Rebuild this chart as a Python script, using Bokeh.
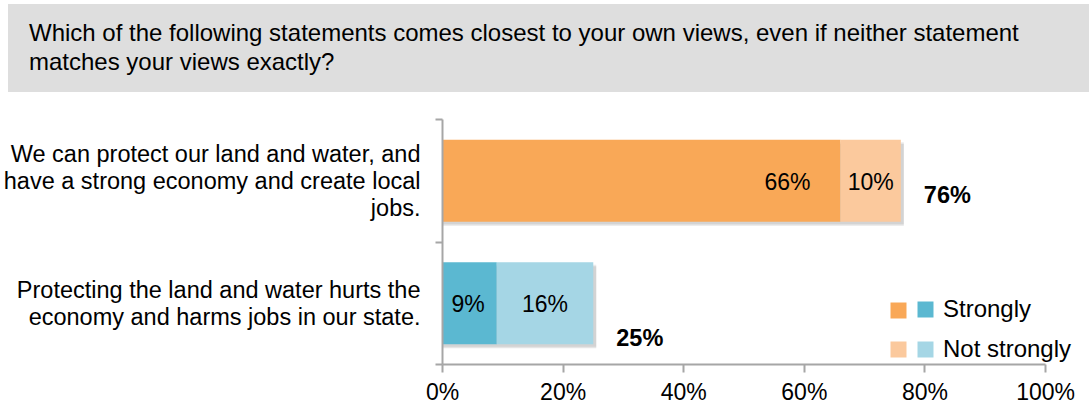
from bokeh.plotting import figure
from bokeh.models import (ColumnDataSource, LabelSet, Legend, LegendItem, FixedTicker,
                          Range1d, Div, PrintfTickFormatter)
from bokeh.layouts import column
from bokeh.core.properties import value
from bokeh.embed import file_html
from bokeh.resources import INLINE

# ---------------- data ----------------
question = ("Which of the following statements comes closest to your own views, even if neither statement"
            "<br>matches your views exactly?")
categories = [
    "We can protect our land and water, and\nhave a strong economy and create local\njobs.",
    "Protecting the land and water hurts the\neconomy and harms jobs in our state.",
]
strongly = [66, 9]
not_strongly = [10, 16]
series_names = ["Strongly", "Not strongly"]
x_ticks = [0, 20, 40, 60, 80, 100]

# ---------------- style ----------------
FONT = "Liberation Sans"
strong_colors = ["#F9A857", "#5BB8D1"]
not_colors = ["#FBC99D", "#A5D6E5"]
strong_label_dx = [-30, -12]     # label placement (px)
total_label_dy = [-14, -35]      # label placement (px)
AXIS_COLOR = "#A6A6A6"
FRAME_LEFT, FRAME_W100 = 441, 604   # px of 0% and width of 0..100%
X_END = 100 * (1089 - FRAME_LEFT) / FRAME_W100

n = len(categories)
y_pos = [n - i - 0.5 for i in range(n)]
totals = [s + t for s, t in zip(strongly, not_strongly)]

src = ColumnDataSource(dict(
    y=y_pos,
    strongly=strongly,
    not_strongly=not_strongly,
    total=totals,
    mid=[s + t / 2 for s, t in zip(strongly, not_strongly)],
    strong_color=strong_colors,
    not_color=not_colors,
    strong_text=[f"{v}%" for v in strongly],
    not_text=[f"{v}%" for v in not_strongly],
    total_text=[f"{v}%" for v in totals],
    strong_dx=strong_label_dx,
    total_dy=total_label_dy,
    shadow_y=[v - 0.033 for v in y_pos],
    shadow_y2=[v - 0.02 for v in y_pos],
    shadow_r=[v + 0.5 for v in totals],
))

p = figure(width=1089, height=309, x_range=Range1d(0, X_END), y_range=Range1d(0, n),
           output_backend="svg", toolbar_location=None,
           min_border_left=FRAME_LEFT, min_border_right=0, min_border_top=19, min_border_bottom=45,
           margin=0)
p.outline_line_color = None
p.xgrid.visible = False
p.ygrid.visible = False
p.background_fill_color = "white"
p.border_fill_color = "white"

BAR_H = 0.67
# soft drop shadow
p.hbar(y="shadow_y", left=0, right="shadow_r", height=BAR_H, source=src,
       fill_color="black", fill_alpha=0.10, line_color=None)
p.hbar(y="shadow_y2", left=0, right="shadow_r", height=BAR_H, source=src,
       fill_color="black", fill_alpha=0.08, line_color=None)

r_strong = p.hbar(y="y", left=0, right="strongly", height=BAR_H, source=src,
                  fill_color="strong_color", line_color=None)
r_not = p.hbar(y="y", left="strongly", right="total", height=BAR_H, source=src,
               fill_color="not_color", line_color=None)

# x axis
xa = p.xaxis[0]
xa.ticker = FixedTicker(ticks=x_ticks)
xa.bounds = (0, 100)
xa.formatter = PrintfTickFormatter(format="%d%%")
xa.axis_line_color = AXIS_COLOR
xa.axis_line_width = 2
xa.major_tick_line_color = AXIS_COLOR
xa.major_tick_line_width = 2
xa.major_tick_out = 8
xa.major_tick_in = 0
xa.minor_tick_line_color = None
xa.major_label_text_font = FONT
xa.major_label_text_font_size = "23px"
xa.major_label_text_color = "black"
xa.major_label_standoff = 6

# y axis: category labels at centres, tick marks at boundaries (minor ticks)
ya = p.yaxis[0]
ya.ticker = FixedTicker(ticks=y_pos, minor_ticks=list(range(n + 1)))
ya.major_label_overrides = {y: c for y, c in zip(y_pos, categories)}
ya.axis_line_color = AXIS_COLOR
ya.axis_line_width = 2
ya.major_tick_line_color = None
ya.major_tick_out = 0
ya.major_tick_in = 0
ya.minor_tick_line_color = AXIS_COLOR
ya.minor_tick_line_width = 2
ya.minor_tick_out = 7
ya.minor_tick_in = 0
ya.major_label_text_font = FONT
ya.major_label_text_font_size = "23.5px"
ya.major_label_text_color = "black"
ya.major_label_text_line_height = 1.04
ya.major_label_standoff = 15

# labels
common = dict(source=src, text_font=value(FONT), text_font_size="23px", text_color="black",
              text_baseline="middle")
p.add_layout(LabelSet(x="strongly", y="y", text="strong_text", x_offset="strong_dx",
                      y_offset=-1, text_align="right", **common))
p.add_layout(LabelSet(x="mid", y="y", text="not_text", y_offset=-1, text_align="center", **common))
tot = dict(common)
tot["text_font_size"] = "23.5px"
p.add_layout(LabelSet(x="total", y="y", text="total_text", x_offset=23, y_offset="total_dy",
                      text_align="left", text_font_style="bold", **tot))

# legend: two columns of swatches (orange set, blue set)
leg_style = dict(glyph_width=20, glyph_height=20, label_height=27, spacing=12, padding=0,
                 margin=0, border_line_color=None, background_fill_alpha=0,
                 label_text_font=FONT, label_text_font_size="24px", label_text_color="black",
                 orientation="vertical")
leg1 = Legend(items=[LegendItem(label=" ", renderers=[r_strong], index=0),
                     LegendItem(label=" ", renderers=[r_not], index=0)],
              location=(887 - FRAME_LEFT, 1.5), label_standoff=0, **leg_style)
leg2 = Legend(items=[LegendItem(label=series_names[0], renderers=[r_strong], index=1),
                     LegendItem(label=series_names[1], renderers=[r_not], index=1)],
              location=(914 - FRAME_LEFT, 1.5), label_standoff=8, **leg_style)
p.add_layout(leg1)
p.add_layout(leg2)

header = Div(
    text=(f'<div style="margin:4px 0 0 8px;width:1081px;height:88px;background:#DEDEDE;'
          f'box-sizing:border-box;padding:14px 0 0 21px;font-family:\'{FONT}\',Arial,sans-serif;'
          f'font-size:24px;line-height:29px;color:#000;white-space:nowrap;">{question}</div>'),
    width=1089, height=100, margin=0)

layout = column(header, p, spacing=0, margin=0)
open("out.html", "w").write(file_html(layout, INLINE))
